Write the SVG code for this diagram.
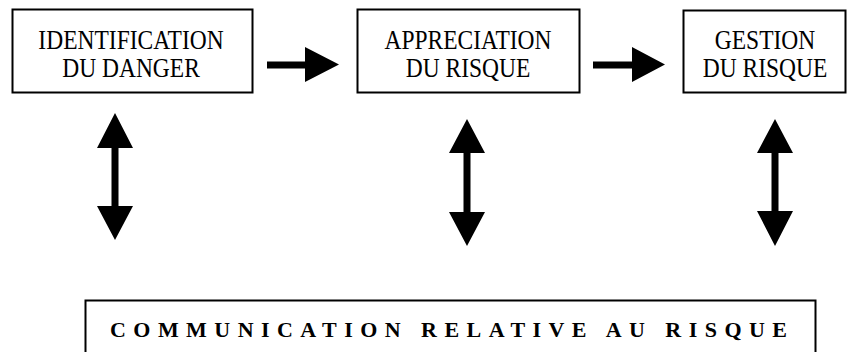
<svg xmlns="http://www.w3.org/2000/svg" width="847" height="352" viewBox="0 0 847 352">
<style>
.box{fill:#fff;stroke:#000;stroke-width:2}
.t{font-family:"Liberation Serif","Times New Roman",serif;font-size:23.5px;fill:#000;text-anchor:middle}
.b{font-family:"Liberation Serif","Times New Roman",serif;font-size:22px;font-weight:bold;fill:#000}
.ar{fill:#000}
</style>
<g id="n1"><rect class="box" x="12.5" y="9.5" width="240" height="83"/><text class="t" transform="matrix(1 0 0 1.12 131 48.5)">IDENTIFICATION</text><text class="t" transform="matrix(1 0 0 1.12 131 76.5)">DU DANGER</text></g>
<g id="n2"><rect class="box" x="357.5" y="9.5" width="222" height="83"/><text class="t" transform="matrix(1 0 0 1.12 468 48.5)">APPRECIATION</text><text class="t" transform="matrix(1 0 0 1.12 468 76.5)">DU RISQUE</text></g>
<g id="n3"><rect class="box" x="683.5" y="10.5" width="162" height="82"/><text class="t" transform="matrix(1 0 0 1.12 765 48.5)">GESTION</text><text class="t" transform="matrix(1 0 0 1.12 765 76.5)">DU RISQUE</text></g>
<g id="n4"><rect class="box" x="85.5" y="300.5" width="730" height="60"/><text class="b" x="110" y="337" textLength="677" lengthAdjust="spacing">COMMUNICATION RELATIVE AU RISQUE</text></g>
<g id="connectors">
<path class="ar" d="M267 61.5H305V47L339 64.5L305 82V68.5H267Z"/>
<path class="ar" d="M593 61.5H632V47L665 64.5L632 82V68.5H593Z"/>
<path class="ar" d="M115 113L133 148H118.5V206H133L115 240L97 206H111.5V148H97Z"/>
<path class="ar" d="M467 119L485 153H470.5V212H485L467 246L449 212H463.5V153H449Z"/>
<path class="ar" d="M775 119L793 153H778.5V211H793L775 246L757 211H771.5V153H757Z"/>
</g>
</svg>
